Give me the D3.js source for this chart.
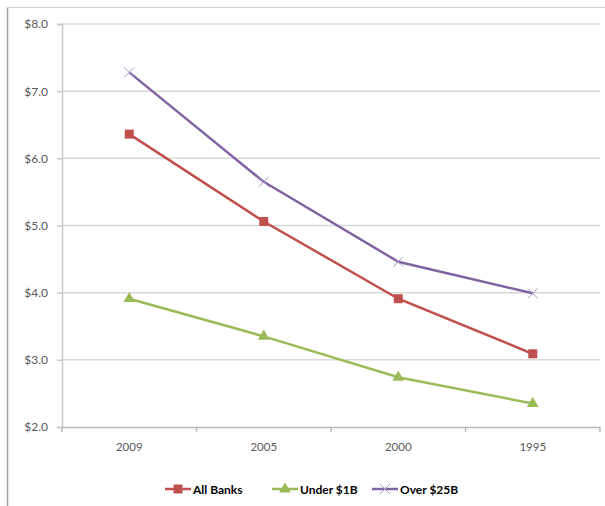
<!DOCTYPE html>
<html>
<head>
<meta charset="utf-8">
<script src="https://cdn.jsdelivr.net/npm/d3@7"></script>
<style>
body { margin: 0; background: #fff; }
text { font-family: Lato, "Open Sans", sans-serif; }
</style>
</head>
<body>
<div id="chart"></div>
<script>
var years = ["2009", "2005", "2000", "1995"];
var allBanks = [6.36, 5.06, 3.91, 3.09];
var under1B = [3.91, 3.35, 2.74, 2.35];
var over25B = [7.28, 5.65, 4.46, 3.99];
var yTicks = [2, 3, 4, 5, 6, 7, 8];

var w = 605, h = 506;
var svg = d3.select("#chart").append("svg")
  .attr("width", w).attr("height", h);

// frame
svg.append("line").attr("x1", 7.5).attr("x2", 7.5).attr("y1", 7).attr("y2", h)
  .attr("stroke", "#a0a0a0").attr("stroke-width", 1.5);
svg.append("line").attr("x1", 7).attr("x2", w).attr("y1", 7.5).attr("y2", 7.5)
  .attr("stroke", "#d0d0d0").attr("stroke-width", 1);

var pLeft = 62, pRight = 600, pTop = 24, pBottom = 427;

var x = d3.scaleBand().domain(years).range([pLeft, pRight]);
var y = d3.scaleLinear().domain([2, 8]).range([pBottom, pTop]);

// gridlines
svg.append("g").selectAll("line").data(yTicks.slice(1)).enter().append("line")
  .attr("x1", pLeft).attr("x2", pRight)
  .attr("y1", function(d) { return y(d); }).attr("y2", function(d) { return y(d); })
  .attr("stroke", "#d9d9d9").attr("stroke-width", 1.5);

// y axis
var yAxis = svg.append("g").attr("transform", "translate(" + pLeft + ",0)")
  .call(d3.axisLeft(y).tickValues(yTicks).tickSize(5).tickPadding(9)
    .tickFormat(function(d) { return "$" + d3.format(".1f")(d); }));
yAxis.select(".domain").attr("stroke", "#c8c8c8").attr("stroke-width", 1.5);
yAxis.selectAll(".tick line").attr("stroke", "#c8c8c8").attr("stroke-width", 1.5);
yAxis.selectAll("text").attr("fill", "#595959").style("font-size", "12px");

// x axis
var xAxis = svg.append("g").attr("transform", "translate(0," + pBottom + ")")
  .call(d3.axisBottom(x).tickSize(0).tickPadding(16));
xAxis.select(".domain").attr("stroke", "#b8b8b8").attr("stroke-width", 1.5);
xAxis.selectAll("text").attr("fill", "#595959").style("font-size", "11.5px");
svg.append("g").selectAll("line").data(d3.range(years.length + 1)).enter().append("line")
  .attr("x1", function(i) { return pLeft + i * x.step(); })
  .attr("x2", function(i) { return pLeft + i * x.step(); })
  .attr("y1", pBottom).attr("y2", pBottom + 5)
  .attr("stroke", "#b8b8b8").attr("stroke-width", 1.5);

var series = [
  { name: "All Banks", values: allBanks, color: "#c0504d", marker: "square" },
  { name: "Under $1B", values: under1B, color: "#9bbb59", marker: "triangle" },
  { name: "Over $25B", values: over25B, color: "#8064a2", marker: "x" }
];

var cx = function(i) { return x(years[i]) + x.bandwidth() / 2; };
var line = d3.line().x(function(d, i) { return cx(i); }).y(function(d) { return y(d); });

function drawMarker(g, type, color) {
  if (type === "square") {
    g.append("rect").attr("x", -4.5).attr("y", -4.5).attr("width", 9).attr("height", 9)
      .attr("fill", color);
  } else if (type === "triangle") {
    g.append("path").attr("d", d3.symbol().type(d3.symbolTriangle).size(60)())
      .attr("fill", color);
  } else {
    g.append("path").attr("d", "M-5,-5L5,5M-5,5L5,-5")
      .attr("stroke", "#a896c8").attr("stroke-width", 1).attr("fill", "none");
  }
}

series.forEach(function(s) {
  svg.append("path").datum(s.values)
    .attr("d", line).attr("fill", "none")
    .attr("stroke", s.color).attr("stroke-width", 2.5);
  s.values.forEach(function(v, i) {
    var g = svg.append("g").attr("transform", "translate(" + cx(i) + "," + y(v) + ")");
    drawMarker(g, s.marker, s.color);
  });
});

// legend
var legendX = [165, 272, 372];
series.forEach(function(s, i) {
  var g = svg.append("g").attr("transform", "translate(" + legendX[i] + ",489)");
  g.append("line").attr("x1", 0).attr("x2", 26).attr("stroke", s.color).attr("stroke-width", 2.5);
  var m = g.append("g").attr("transform", "translate(13,0)");
  drawMarker(m, s.marker, s.color);
  g.append("text").attr("x", 28).attr("y", 4.5).text(s.name)
    .style("font-size", "12px").style("font-weight", "bold").attr("fill", "#000");
});
</script>
</body>
</html>
